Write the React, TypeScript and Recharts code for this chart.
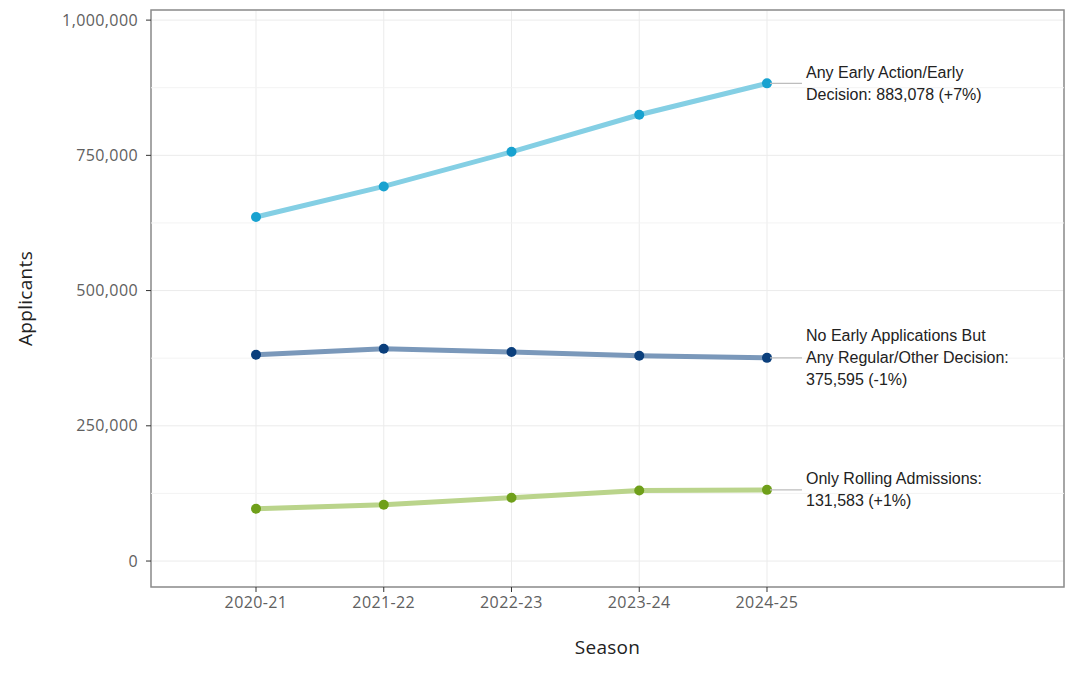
import {
  LineChart,
  Line,
  XAxis,
  YAxis,
  CartesianGrid,
  ReferenceLine,
  ReferenceArea,
} from "recharts";

const seasons = ["2020-21", "2021-22", "2022-23", "2023-24", "2024-25"];
const earlyActionDecision = [636000, 692500, 756500, 825000, 883078];
const regularOtherOnly = [381200, 392300, 386500, 379400, 375595];
const rollingOnly = [96600, 104000, 117000, 130300, 131583];

const earlyLabel = ["Any Early Action/Early", "Decision: 883,078 (+7%)"];
const regularLabel = ["No Early Applications But", "Any Regular/Other Decision:", "375,595 (-1%)"];
const rollingLabel = ["Only Rolling Admissions:", "131,583 (+1%)"];

const yTicks = [0, 250000, 500000, 750000, 1000000];
const yMinorTicks = [125000, 375000, 625000, 875000];

const X_DOMAIN: [number, number] = [-0.822, 6.325];
const Y_DOMAIN: [number, number] = [-48000, 1018700];

const data = seasons.map((season, i) => ({
  x: i,
  season,
  early: earlyActionDecision[i],
  regular: regularOtherOnly[i],
  rolling: rollingOnly[i],
}));

const tickStyle = { fill: "#606060", fontSize: 16, fontFamily: "'Open Sans'", letterSpacing: 0.4 };

// label drawn only next to the last point of a series
const endLabel = (lines: string[]) => (props: any) => {
  const { x, y, index } = props;
  if (index !== data.length - 1) return null;
  const first = y - ((lines.length - 1) * 22) / 2;
  return (
    <g>
      <line x1={x + 3} y1={y} x2={x + 35} y2={y} stroke="#bdbdbd" strokeWidth={1.2} />
      <text
        x={x + 39}
        y={first}
        fill="#222"
        fontSize={16}
        fontFamily="'Liberation Sans', Arial, sans-serif"
      >
        {lines.map((t, i) => (
          <tspan key={i} x={x + 39} y={first + i * 22} dy="0.35em">
            {t}
          </tspan>
        ))}
      </text>
    </g>
  );
};

const App = () => {
  return (
    <div style={{ position: "absolute", left: 0, top: 0, background: "#fff" }}>
      <LineChart
        width={1080}
        height={675}
        data={data}
        margin={{ top: 10, right: 16, bottom: 0, left: 0 }}
      >
        <CartesianGrid stroke="#ebebeb" strokeWidth={1} />
        {yMinorTicks.map((v) => (
          <ReferenceLine key={v} y={v} stroke="#f3f3f3" strokeWidth={1} />
        ))}
        <XAxis
          type="number"
          dataKey="x"
          domain={X_DOMAIN}
          allowDataOverflow
          ticks={[0, 1, 2, 3, 4]}
          tickFormatter={(i) => seasons[i] ?? ""}
          interval={0}
          height={88}
          axisLine={false}
          tickLine={{ stroke: "#333" }}
          tickSize={5}
          tickMargin={5}
          tick={tickStyle}
          label={({ viewBox }: any) => (
            <text
              x={viewBox.x + viewBox.width / 2}
              y={viewBox.y + 67}
              textAnchor="middle"
              fill="#222"
              fontSize={19}
              letterSpacing={0.3}
              fontFamily="'Open Sans'"
            >
              Season
            </text>
          )}
        />
        <YAxis
          type="number"
          domain={Y_DOMAIN}
          allowDataOverflow
          ticks={yTicks}
          tickFormatter={(v) => v.toLocaleString("en-US")}
          width={151}
          axisLine={false}
          tickLine={{ stroke: "#333" }}
          tickSize={5}
          tickMargin={8}
          tick={tickStyle}
          label={({ viewBox }: any) => {
            const cx = viewBox.x + 32;
            const cy = viewBox.y + viewBox.height / 2;
            return (
              <text
                x={cx}
                y={cy}
                transform={`rotate(-90, ${cx}, ${cy})`}
                textAnchor="middle"
                fill="#222"
                fontSize={19}
                letterSpacing={0.3}
                fontFamily="'Open Sans'"
              >
                Applicants
              </text>
            );
          }}
        />
        <ReferenceArea
          x1={X_DOMAIN[0]}
          x2={X_DOMAIN[1]}
          y1={Y_DOMAIN[0]}
          y2={Y_DOMAIN[1]}
          fill="none"
          stroke="#8c8c8c"
          strokeWidth={1.5}
          ifOverflow="visible"
        />
        <Line
          dataKey="early"
          stroke="#84cfe4"
          strokeWidth={5}
          dot={{ r: 5, fill: "#18a2d0", stroke: "none" }}
          activeDot={false}
          label={endLabel(earlyLabel)}
          isAnimationActive={false}
        />
        <Line
          dataKey="regular"
          stroke="#7a98ba"
          strokeWidth={5}
          dot={{ r: 5, fill: "#0b3f7c", stroke: "none" }}
          activeDot={false}
          label={endLabel(regularLabel)}
          isAnimationActive={false}
        />
        <Line
          dataKey="rolling"
          stroke="#bad48b"
          strokeWidth={5}
          dot={{ r: 5, fill: "#6f9f1a", stroke: "none" }}
          activeDot={false}
          label={endLabel(rollingLabel)}
          isAnimationActive={false}
        />
      </LineChart>
    </div>
  );
};

export default App;
